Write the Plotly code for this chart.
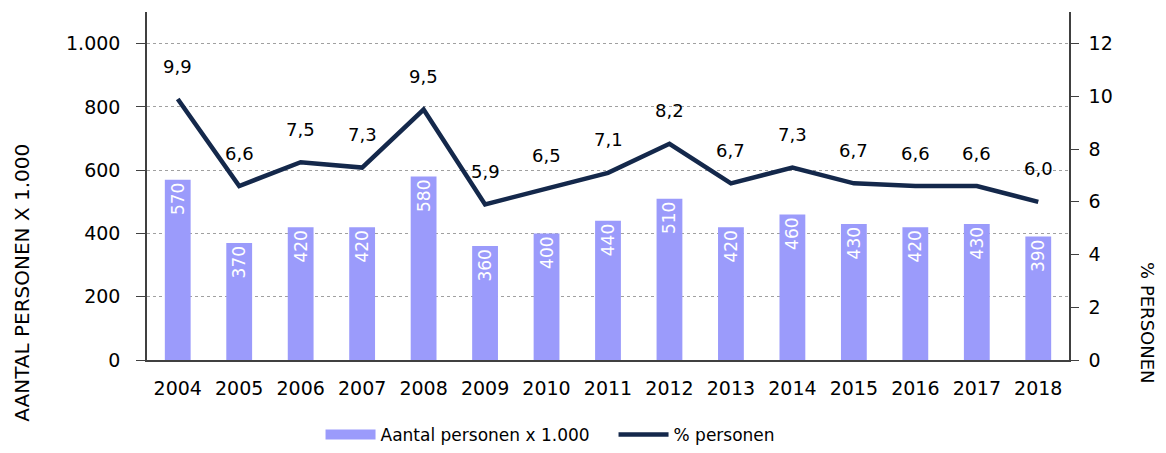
import plotly.graph_objects as go

jaren = ["2004", "2005", "2006", "2007", "2008", "2009", "2010", "2011",
         "2012", "2013", "2014", "2015", "2016", "2017", "2018"]
aantal = [570, 370, 420, 420, 580, 360, 400, 440, 510, 420, 460, 430, 420, 430, 390]
procent = [9.9, 6.6, 7.5, 7.3, 9.5, 5.9, 6.5, 7.1, 8.2, 6.7, 7.3, 6.7, 6.6, 6.6, 6.0]

font = "DejaVu Sans"
fs = 19
staaf_kleur = "#9b9bfb"
lijn_kleur = "#14284b"

fig = go.Figure()

# staven: aantal personen
fig.add_trace(go.Bar(
    x=jaren, y=aantal, name="Aantal personen x 1.000", showlegend=False,
    marker=dict(color=staaf_kleur, line=dict(width=0)),
    width=0.42,
    text=aantal, texttemplate="%{text}", textposition="inside",
    insidetextanchor="end", textangle=-90, constraintext="none",
    insidetextfont=dict(color="white", size=17, family=font),
))

# legenda-item voor de staven (brede balk zoals in het origineel)
fig.add_trace(go.Scatter(
    x=[None], y=[None], name="Aantal personen x 1.000", mode="lines",
    line=dict(color=staaf_kleur, width=11), legendrank=1,
))

# lijn: % personen
fig.add_trace(go.Scatter(
    x=jaren, y=procent, name="% personen", yaxis="y2", legendrank=2,
    mode="lines", line=dict(color=lijn_kleur, width=4.5),
))

# labels boven de lijn
for i, p in enumerate(procent):
    fig.add_annotation(x=i, y=p, yref="y2", text=f"{p:.1f}".replace(".", ","),
                       showarrow=False, yshift=33,
                       font=dict(size=18, color="black", family=font))

# astitels
fig.add_annotation(x=0, xref="paper", xanchor="center", xshift=-125,
                   y=0.222, yref="paper", yanchor="middle",
                   text="AANTAL PERSONEN X 1.000", textangle=-90, showarrow=False,
                   font=dict(size=20, color="black", family=font))
fig.add_annotation(x=1, xref="paper", xanchor="center", xshift=79,
                   y=0.109, yref="paper", yanchor="middle",
                   text="% PERSONEN", textangle=90, showarrow=False,
                   font=dict(size=18, color="black", family=font))

fig.update_layout(
    width=1166, height=453,
    margin=dict(l=147, r=97, t=12, b=93),
    plot_bgcolor="white", paper_bgcolor="white",
    separators=",.",
    font=dict(family=font, size=fs, color="black"),
    showlegend=True,
    legend=dict(orientation="h", x=0.506, xanchor="center",
                yref="container", y=0, yanchor="bottom",
                font=dict(size=17), itemwidth=50, entrywidth=228,
                traceorder="normal"),
    xaxis=dict(type="category", range=[-0.5, 14.5], showline=True,
               linecolor="#404040", linewidth=1.5, ticklabelstandoff=10,
               ticks="", showgrid=False, tickfont=dict(size=fs)),
    yaxis=dict(range=[0, 1100], tickvals=[0, 200, 400, 600, 800, 1000],
               tickformat=",d", showline=True, linecolor="#404040", linewidth=1.5,
               ticks="outside", ticklen=9, tickcolor="#404040",
               ticklabelstandoff=12,
               showgrid=True, gridcolor="#a0a0a0", griddash="dot", gridwidth=1,
               zeroline=False, tickfont=dict(size=fs)),
    yaxis2=dict(range=[0, 13.2], tickvals=[0, 2, 4, 6, 8, 10, 12],
                overlaying="y", side="right", showline=True, linecolor="#404040",
                linewidth=1.5, ticks="outside", ticklen=8, tickcolor="#404040",
                ticklabelstandoff=6,
                showgrid=False, zeroline=False, tickfont=dict(size=fs)),
)

# standaard body-marge van de browser weghalen, geen modebar
fig.write_html("out.html", config={"displayModeBar": False},
               post_script="document.body.style.margin='0';")
